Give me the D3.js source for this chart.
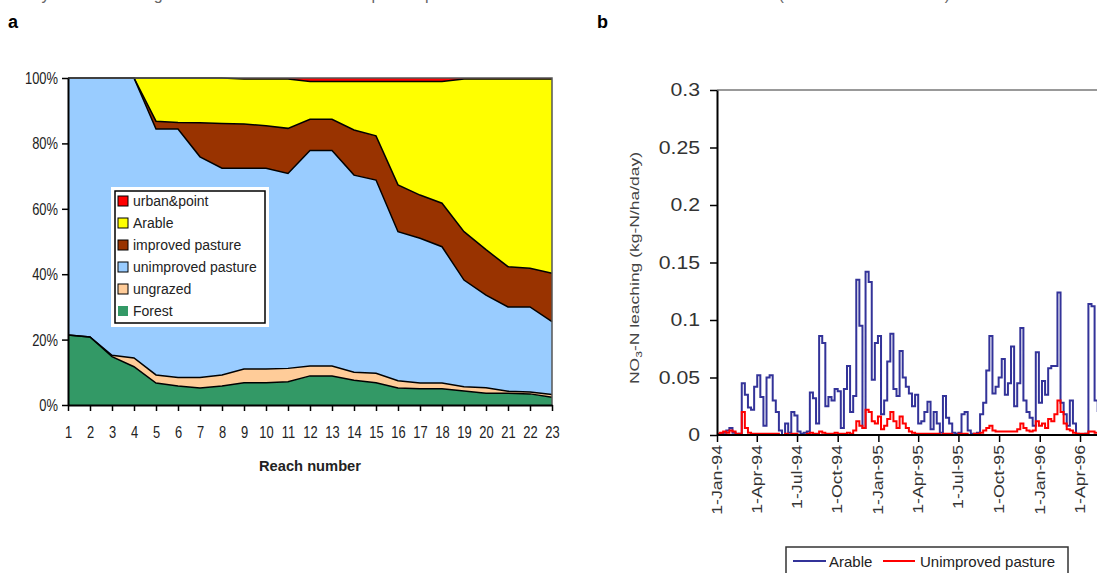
<!DOCTYPE html>
<html>
<head>
<meta charset="utf-8">
<script src="https://cdn.jsdelivr.net/npm/d3@7/dist/d3.min.js"></script>
<style>
  body { margin: 0; background: #fff; }
  svg { display: block; font-family: "Liberation Sans", Arial, sans-serif; }
</style>
</head>
<body>
<div id="chart"></div>
<script>
// ---- panel a : land use share per reach (%) ----
const reaches    = d3.range(1, 24);
const forest     = [21.4,20.8,14.8,11.7,6.7,5.8,5.2,5.8,6.8,6.8,7.1,8.9,8.9,7.6,6.8,5.2,5.0,5.0,4.3,3.6,3.6,3.4,2.4];
const ungrazed   = [0,0,0.4,2.7,2.5,2.6,3.2,3.4,4.2,4.2,4.1,3.0,3.0,2.4,2.9,2.2,1.7,1.7,1.3,1.7,0.6,0.6,0.8];
const unimproved = [78.6,79.2,84.8,85.6,75.2,76.0,67.5,63.2,61.4,61.4,59.6,65.9,65.9,60.3,59.1,45.6,44.3,41.7,32.6,28.3,25.8,26.0,22.3];
const improved   = [0,0,0,0,2.4,2.0,10.4,13.7,13.5,13.0,13.8,9.6,9.6,13.8,13.5,14.3,13.2,13.3,14.8,13.9,12.3,11.8,14.8];
const arable     = [0,0,0,0,13.2,13.6,13.7,13.9,13.8,14.3,15.1,11.5,11.5,14.8,16.6,31.6,34.7,37.2,46.7,52.2,57.4,57.9,59.4];
const urban      = [0,0,0,0,0,0,0,0,0.3,0.3,0.3,1.1,1.1,1.1,1.1,1.1,1.1,1.1,0.3,0.3,0.3,0.3,0.3];
const layerKeys   = ["forest","ungrazed","unimproved","improved","arable","urban"];
const layerNames  = {forest:"Forest", ungrazed:"ungrazed", unimproved:"unimproved pasture", improved:"improved pasture", arable:"Arable", urban:"urban&point"};
const layerColors = {forest:"#339966", ungrazed:"#ffcc99", unimproved:"#99ccff", improved:"#993300", arable:"#ffff00", urban:"#ff0000"};
const pctTicks = [0,20,40,60,80,100];

// ---- panel b : weekly NO3-N leaching (kg-N/ha/day), weeks from 1-Jan-94 ----
const arableLeach = [0,0.001,0.002,0.004,0.006,0.002,0,0.001,0.045,0.035,0.024,0.022,0.042,0.052,0.033,0.008,
  0.05,0.052,0.03,0.02,0.004,0,0.01,0.002,0.02,0.017,0.003,0.001,0.002,0.003,0.037,0.032,0.01,0.086,0.08,0.025,
  0.033,0.03,0.04,0.038,0.006,0.04,0.06,0.02,0.034,0.135,0.095,0.006,0.142,0.133,0.048,0.08,0.086,0.018,0.03,
  0.064,0.088,0.04,0.034,0.073,0.05,0.042,0.036,0.025,0.035,0.01,0.012,0.02,0.029,0.005,0.02,0.01,0.002,0.034,
  0.015,0.01,0.002,0.001,0.002,0.018,0.02,0.004,0.001,0.001,0.002,0.018,0.028,0.056,0.086,0.036,0.042,0.05,
  0.066,0.035,0.045,0.077,0.025,0.045,0.093,0.03,0.02,0.015,0.008,0.072,0.028,0.047,0.035,0.058,0.06,0.06,
  0.124,0.028,0.018,0.008,0.03,0.01,0.001,0,0,0.001,0.114,0.112,0.03,0.02];
const pastureLeach = [0.001,0.002,0.003,0.002,0.004,0.003,0.001,0.001,0.02,0.006,0.002,0.001,0.001,0.001,0.001,0.001,
  0.001,0.001,0.001,0.001,0,0,0.001,0,0.001,0.001,0,0,0,0.001,0.002,0.001,0.001,0.003,0.002,0.001,
  0.001,0.001,0.002,0.001,0.001,0.001,0.002,0.001,0.004,0.012,0.008,0.006,0.022,0.02,0.012,0.01,0.016,0.005,0.008,
  0.014,0.02,0.012,0.006,0.016,0.01,0.006,0.003,0.002,0.001,0.001,0.001,0.001,0.001,0.001,0.001,0.001,0,0.001,
  0.001,0.001,0,0,0.001,0.001,0.001,0,0,0.001,0.001,0.002,0.004,0.006,0.008,0.004,0.003,0.003,
  0.003,0.003,0.003,0.003,0.003,0.005,0.01,0.006,0.004,0.003,0.004,0.012,0.008,0.01,0.006,0.014,0.012,0.018,
  0.03,0.02,0.01,0.005,0.004,0.002,0.001,0.001,0.001,0.001,0.003,0.003,0.002,0.001];
const dateTicks  = [[1994,0],[1994,3],[1994,6],[1994,9],[1995,0],[1995,3],[1995,6],[1995,9],[1996,0],[1996,3]];
const leachTicks = [0,0.05,0.1,0.15,0.2,0.25,0.3];
const leachLabels = ["0","0.05","0.1","0.15","0.2","0.25","0.3"];

const W = 1097, H = 573;
const svg = d3.select("#chart").append("svg").attr("width", W).attr("height", H);
svg.append("rect").attr("width", W).attr("height", H).attr("fill", "#fff");

// caption line, cut off by the top of the page as in the source figure
svg.append("text").attr("x", 14).attr("y", -0.5).attr("font-size", 16).attr("fill", "#666")
  .text("Daily nitrate leaching rates for the arable and unimproved pasture land use classes in the Tweed catchment (simulated with INCA-N)");

svg.append("text").attr("x", 8).attr("y", 28).attr("font-size", 18).attr("font-weight", "bold").text("a");
svg.append("text").attr("x", 597).attr("y", 28).attr("font-size", 18).attr("font-weight", "bold").text("b");

// ================= panel a =================
const xa = d3.scaleLinear().domain([1, 23]).range([68, 552]);
const ya = d3.scaleLinear().domain([0, 100]).range([405, 78]);

const rows = reaches.map((r, i) => ({
  reach: r, forest: forest[i], ungrazed: ungrazed[i], unimproved: unimproved[i],
  improved: improved[i], arable: arable[i], urban: urban[i]
}));
const stacked = d3.stack().keys(layerKeys)(rows);

const ga = svg.append("g");
ga.selectAll("path.area")
  .data(stacked)
  .join("path")
  .attr("class", "area")
  .attr("fill", d => layerColors[d.key])
  .attr("d", d3.area().x(d => xa(d.data.reach)).y0(d => ya(d[0])).y1(d => ya(d[1])));

ga.selectAll("path.edge")
  .data(stacked.slice(0, 5))
  .join("path")
  .attr("class", "edge")
  .attr("fill", "none")
  .attr("stroke", "#000")
  .attr("stroke-width", 1.5)
  .attr("d", d3.line().x(d => xa(d.data.reach)).y(d => ya(d[1])));

// plot frame
ga.append("path")
  .attr("d", `M${xa(1)},${ya(100)}H${xa(23)}V${ya(0)}`)
  .attr("fill", "none").attr("stroke", "#555").attr("stroke-width", 1.5);

const narrow = 0.76; // the source uses a condensed face
const yAxisA = ga.append("g")
  .attr("transform", `translate(${xa(1)},0)`)
  .call(d3.axisLeft(ya).tickValues(pctTicks).tickFormat(d => d + "%").tickSize(6).tickSizeOuter(0));
const xAxisA = ga.append("g")
  .attr("transform", `translate(0,${ya(0)})`)
  .call(d3.axisBottom(xa).tickValues(reaches).tickFormat(d3.format("d")).tickSize(6).tickSizeOuter(0));
[yAxisA, xAxisA].forEach(a => {
  a.select(".domain").attr("stroke", "#000").attr("stroke-width", 2);
  a.selectAll(".tick line").attr("stroke", "#000").attr("stroke-width", 1.5);
  a.selectAll(".tick text").attr("font-size", 17).attr("fill", "#222")
    .attr("transform", `scale(${narrow},1)`);
});
yAxisA.selectAll(".tick text").attr("x", -10 / narrow);
xAxisA.selectAll(".tick text").attr("y", 21);

ga.append("text").attr("x", 310).attr("y", 471).attr("text-anchor", "middle")
  .attr("font-size", 15).attr("font-weight", "bold").attr("fill", "#222")
  .attr("textLength", 102).attr("lengthAdjust", "spacingAndGlyphs").text("Reach number");

// legend a
const legA = ga.append("g");
legA.append("rect").attr("x", 111).attr("y", 187).attr("width", 158).attr("height", 140).attr("fill", "#fff");
legA.append("rect").attr("x", 115).attr("y", 191).attr("width", 150).attr("height", 132)
  .attr("fill", "none").attr("stroke", "#000").attr("stroke-width", 1.5);
const legOrder = layerKeys.slice().reverse();
const legItems = legA.selectAll("g.item").data(legOrder).join("g").attr("class", "item")
  .attr("transform", (d, i) => `translate(118,${201 + i * 22})`);
legItems.append("rect").attr("x", 0).attr("y", -5).attr("width", 10).attr("height", 10)
  .attr("fill", d => layerColors[d]).attr("stroke", d => d === "forest" ? "none" : "#000").attr("stroke-width", 1);
legItems.append("text").attr("x", 15).attr("y", 5).attr("font-size", 14).attr("fill", "#222")
  .text(d => layerNames[d]);

// ================= panel b =================
const week0 = new Date(1994, 0, 1);
const weekDate = i => new Date(1994, 0, 1 + 7 * i);
const xb = d3.scaleTime().domain([week0, new Date(1996, 3, 1)]).range([717, 1080]);
const yb = d3.scaleLinear().domain([0, 0.3]).range([435, 90]);

const gb = svg.append("g");
gb.append("line").attr("x1", 717).attr("x2", W).attr("y1", yb(0.3)).attr("y2", yb(0.3))
  .attr("stroke", "#999").attr("stroke-width", 2);

gb.append("clipPath").attr("id", "clipb").append("rect")
  .attr("x", 717).attr("y", 80).attr("width", W - 717).attr("height", 360);

const lineB = d3.line().x((d, i) => xb(weekDate(i))).y(d => yb(d)).curve(d3.curveStepAfter);
gb.append("path").datum(arableLeach).attr("clip-path", "url(#clipb)")
  .attr("fill", "none").attr("stroke", "#333399").attr("stroke-width", 2).attr("d", lineB);
gb.append("path").datum(pastureLeach).attr("clip-path", "url(#clipb)")
  .attr("fill", "none").attr("stroke", "#ff0000").attr("stroke-width", 2).attr("d", lineB);

const yAxisB = gb.append("g").attr("transform", "translate(717,0)")
  .call(d3.axisLeft(yb).tickValues(leachTicks).tickFormat((d, i) => leachLabels[i]).tickSize(7).tickSizeOuter(0));
const xAxisB = gb.append("g").attr("transform", `translate(0,${yb(0)})`)
  .call(d3.axisBottom(xb).tickValues(dateTicks.map(t => new Date(t[0], t[1], 1)))
    .tickFormat(d3.timeFormat("1-%b-%y")).tickSize(7).tickSizeOuter(0));
xAxisB.select(".domain").attr("d", `M717,0H${W}`);
[yAxisB, xAxisB].forEach(a => {
  a.select(".domain").attr("stroke", "#000").attr("stroke-width", 2);
  a.selectAll(".tick line").attr("stroke", "#000").attr("stroke-width", 1.5);
  a.selectAll(".tick text").attr("fill", "#333");
});
const wide = 1.18;
yAxisB.selectAll(".tick text").attr("font-size", 18)
  .attr("transform", `scale(${wide},1)`).attr("x", -17 / wide);
xAxisB.selectAll(".tick text").attr("font-size", 15)
  .attr("transform", `rotate(-90) scale(${wide},1)`).attr("text-anchor", "end")
  .attr("x", -10 / wide).attr("y", -1).attr("dy", "0.35em");

const yTitle = gb.append("text").attr("transform", "translate(639,268) rotate(-90)")
  .attr("text-anchor", "middle").attr("font-size", 13).attr("fill", "#444")
  .attr("textLength", 232).attr("lengthAdjust", "spacingAndGlyphs");
yTitle.append("tspan").text("NO");
yTitle.append("tspan").attr("font-size", 9).attr("dy", 3).text("3");
yTitle.append("tspan").attr("dy", -3).text("-N leaching (kg-N/ha/day)");

// legend b
const legB = gb.append("g");
legB.append("rect").attr("x", 786).attr("y", 547).attr("width", 282).attr("height", 40)
  .attr("fill", "#fff").attr("stroke", "#333").attr("stroke-width", 1.5);
const legBItems = [["Arable", "#333399", 793, 826, 829], ["Unimproved pasture", "#ff0000", 883, 915, 920]];
legBItems.forEach(([name, col, x1, x2, tx]) => {
  legB.append("line").attr("x1", x1).attr("x2", x2).attr("y1", 561).attr("y2", 561)
    .attr("stroke", col).attr("stroke-width", 2);
  legB.append("text").attr("x", tx).attr("y", 567).attr("font-size", 15).attr("fill", "#222").text(name);
});
</script>
</body>
</html>
